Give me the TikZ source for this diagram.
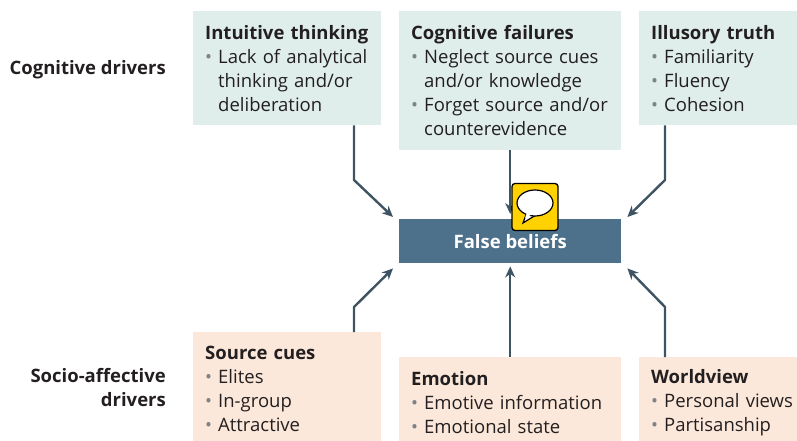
\documentclass[tikz,border=0pt]{standalone}
\usepackage{fontspec}
\setmainfont{Open Sans}
\usetikzlibrary{arrows.meta,positioning}

\definecolor{cogfill}{HTML}{DFEEEB}
\definecolor{socfill}{HTML}{FCE8DA}
\definecolor{beliefblue}{HTML}{4E718B}
\definecolor{linkgray}{HTML}{3E5462}
\definecolor{inkdark}{HTML}{231F20}
\definecolor{dotgray}{HTML}{808285}
\definecolor{iconyellow}{HTML}{FFD200}

\newcommand{\bul}{\makebox[13pt][l]{\color{dotgray}\textbullet}}
\newcommand{\ind}{\hspace*{13pt}}

\tikzset{
  bodytext/.style={font=\fontsize{18.5}{24}\selectfont, text=inkdark},
  drivbox/.style={bodytext, anchor=north west, align=left, inner xsep=12pt, inner ysep=0pt},
  cogbox/.style={drivbox, fill=cogfill},
  socbox/.style={drivbox, fill=socfill},
  rowlabel/.style={font=\fontsize{18.5}{24}\selectfont\bfseries, text=inkdark, anchor=east, align=right, inner sep=0pt},
  link/.style={linkgray, line width=2.4pt, -{Stealth[length=11pt,width=10pt]}}
}

\begin{document}
\begin{tikzpicture}[x=1pt, y=-1pt]
\useasboundingbox (0,0) rectangle (797,441);
\clip (0,0) rectangle (797,441);

% Row labels
\node[rowlabel] (coglabel) at (166,70) {Cognitive drivers};
\node[rowlabel] (soclabel) at (166,388) {Socio-affective\\drivers};

% Cognitive drivers
\node[cogbox, text width=164pt, minimum height=114pt] (intuitive) at (193,11)
  {\textbf{Intuitive thinking}\\\bul \mbox{Lack of analytical}\\\ind thinking and/or\\\ind deliberation};
\node[cogbox, text width=198pt, minimum height=139pt] (failures) at (399,11)
  {\textbf{Cognitive failures}\\\bul \mbox{Neglect source cues}\\\ind and/or knowledge\\\bul \mbox{Forget source and/or}\\\ind counterevidence};
\node[cogbox, text width=150pt, minimum height=114pt] (illusory) at (639,11)
  {\textbf{Illusory truth}\\\bul Familiarity\\\bul Fluency\\\bul Cohesion};

% False beliefs
\node[fill=beliefblue, text=white, font=\fontsize{18.5}{24}\selectfont\bfseries,
  minimum width=222pt, minimum height=44pt, anchor=north west, inner sep=0pt] (beliefs) at (399,219) {False beliefs};

% Socio-affective drivers
\node[socbox, text width=164pt, minimum height=114pt] (source) at (193,332)
  {\textbf{Source cues}\\\bul Elites\\\bul In-group\\\bul Attractive};
\node[socbox, text width=198pt, minimum height=90pt] (emotion) at (399,357)
  {\textbf{Emotion}\\\bul \mbox{Emotive information}\\\bul Emotional state};
\node[socbox, text width=150pt, minimum height=90pt] (worldview) at (639,357)
  {\textbf{Worldview}\\\bul \mbox{Personal views}\\\bul Partisanship};

% Bends
\coordinate (bendit) at (354,180);
\coordinate (bendil) at (665,180);
\coordinate (bendsc) at (354,307);
\coordinate (bendwv) at (665,307);

% Arrows into false beliefs
\draw[link] (intuitive.south -| bendit) -- (bendit) -- ([xshift=-6pt,yshift=2pt]beliefs.north west);
\draw[link] (failures.south) -- ([yshift=5pt]beliefs.north);
\draw[link] (illusory.south -| bendil) -- (bendil) -- ([xshift=6pt,yshift=2pt]beliefs.north east);
\draw[link] (source.north -| bendsc) -- (bendsc) -- ([xshift=-6pt,yshift=-5pt]beliefs.south west);
\draw[link] (emotion.north) -- ([yshift=-3pt]beliefs.south);
\draw[link] (worldview.north -| bendwv) -- (bendwv) -- ([xshift=6pt,yshift=-5pt]beliefs.south east);

% Speech bubble icon
\node[fill=iconyellow, draw=black, line width=1.3pt, rounded corners=3pt,
  minimum width=46pt, minimum height=47pt, inner sep=0pt] (icon) at (535,207) {};
\fill[white, draw=black, line width=1.2pt] (527,212) -- (523,223) -- (536,215) -- cycle;
\fill[white, draw=black, line width=1.2pt] (535,203) ellipse (18 and 13);
\fill[white] (527.5,211) -- (525,218) -- (534.5,213) -- cycle;

\end{tikzpicture}
\end{document}
